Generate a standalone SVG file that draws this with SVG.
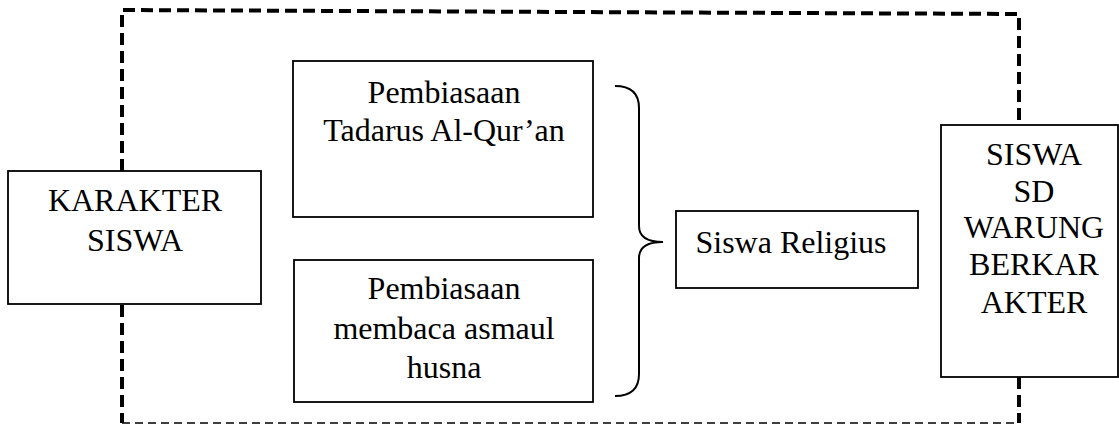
<svg xmlns="http://www.w3.org/2000/svg" width="1119" height="425" viewBox="0 0 1119 425">
<style>
.box{fill:#fff;stroke:#000;stroke-width:1.8}
text{font-family:'Liberation Serif','Times New Roman',Times,serif;font-size:32px;fill:#000;text-anchor:middle}
.thick{fill:none;stroke:#000;stroke-width:4;stroke-dasharray:12 6}
.thin{fill:none;stroke:#000;stroke-width:1.6;stroke-dasharray:8 5}
.brace{fill:none;stroke:#000;stroke-width:2}
</style>
<rect width="1119" height="425" fill="#fff"/>
<g id="connectors">
<path class="thick" d="M122,171 V10 L1019,14 V125"/>
<path class="thick" d="M122,305 V423"/>
<path class="thick" d="M1019,377 V423"/>
<path class="thin" d="M122,423 H1019"/>
<path class="brace" d="M615,86 Q639,86 639,108 V226 Q639,242 663,242 Q639,242 639,258 V374 Q639,396 615,396"/>
</g>
<g id="karakter">
<rect class="box" x="8" y="171" width="253" height="133"/>
<text x="135" y="211">KARAKTER</text>
<text x="135" y="251">SISWA</text>
</g>
<g id="tadarus">
<rect class="box" x="293" y="61" width="300" height="156"/>
<text x="444" y="103">Pembiasaan</text>
<text x="444" y="141">Tadarus Al-Qur’an</text>
</g>
<g id="asmaul">
<rect class="box" x="294" y="260" width="299" height="142"/>
<text x="444" y="299">Pembiasaan</text>
<text x="444" y="339">membaca asmaul</text>
<text x="444" y="378">husna</text>
</g>
<g id="religius">
<rect class="box" x="676" y="211" width="242" height="77"/>
<text x="791" y="253">Siswa Religius</text>
</g>
<g id="siswa-sd">
<rect class="box" x="941" y="125" width="177" height="252"/>
<text x="1034" y="165">SISWA</text>
<text x="1034" y="202">SD</text>
<text x="1034" y="238">WARUNG</text>
<text x="1034" y="275">BERKAR</text>
<text x="1034" y="313">AKTER</text>
</g>
</svg>
